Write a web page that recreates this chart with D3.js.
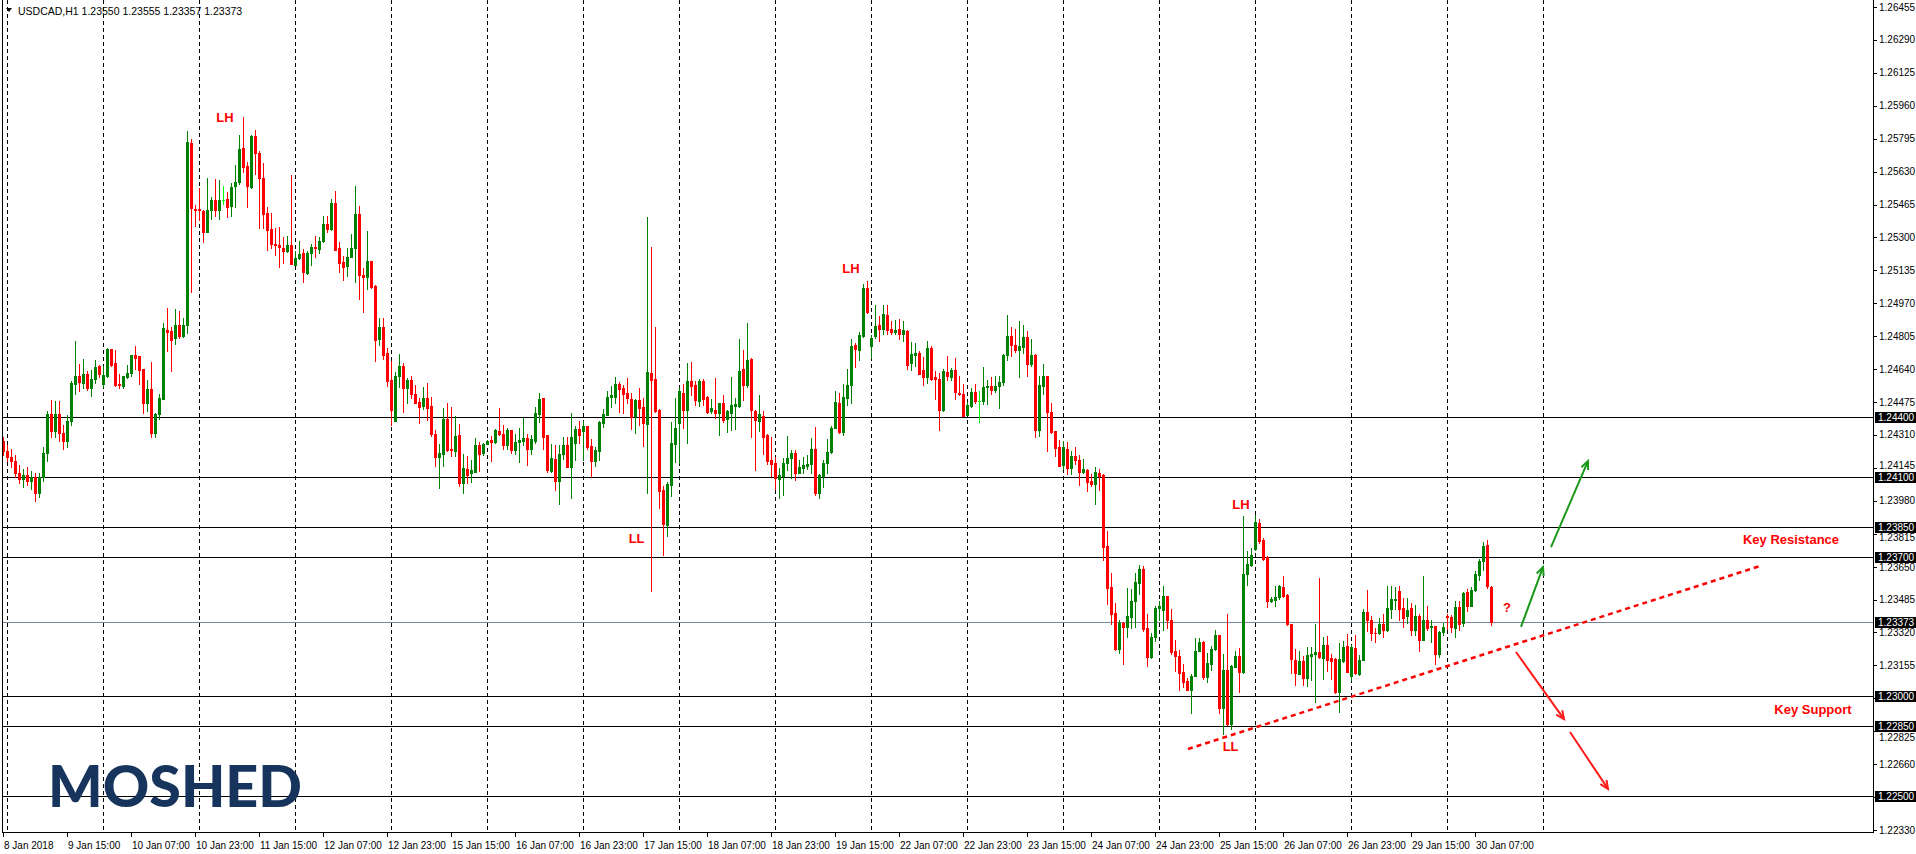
<!DOCTYPE html>
<html><head><meta charset="utf-8">
<script src="https://cdn.jsdelivr.net/npm/d3@7"></script>
<style>body{margin:0;background:#fff;overflow:hidden}svg{display:block}</style>
</head><body>
<svg id="chart" width="1916" height="854"></svg>
<script>
// ---------- DATA ----------
const symbol = "USDCAD,H1";
const firstBarUTC = [2018, 0, 8, 23]; // 8 Jan 2018 23:00, H1 bars, weekends skipped
const opens = [
1.24280,1.24230,1.24200,1.24180,1.24120,1.24090,1.24110,1.24080,1.24100,1.24020,
1.24100,1.24220,1.24414,1.24330,1.24414,1.24320,1.24280,1.24380,1.24564,1.24604,
1.24571,1.24614,1.24546,1.24591,1.24654,1.24564,1.24606,1.24739,1.24669,1.24564,
1.24556,1.24601,1.24622,1.24709,1.24704,1.24639,1.24471,1.24539,1.24320,1.24414,
1.24489,1.24834,1.24829,1.24796,1.24862,1.24806,1.24859,1.25774,1.25442,1.25444,
1.25434,1.25326,1.25436,1.25489,1.25436,1.25489,1.25494,1.25456,1.25556,1.25576,
1.25747,1.25659,1.25552,1.25809,1.25724,1.25599,1.25422,1.25344,1.25269,1.25264,
1.25249,1.25231,1.25264,1.25164,1.25196,1.25224,1.25122,1.25221,1.25254,1.25244,
1.25281,1.25369,1.25341,1.25474,1.25247,1.25177,1.25156,1.25201,1.25246,1.25419,
1.25114,1.25101,1.25182,1.25059,1.24791,1.24849,1.24719,1.24583,1.24380,1.24605,
1.24658,1.24543,1.24583,1.24513,1.24475,1.24453,1.24496,1.24453,1.24316,1.24200,
1.24213,1.24388,1.24240,1.24231,1.24308,1.24070,1.24138,1.24118,1.24125,1.24258,
1.24218,1.24265,1.24285,1.24275,1.24328,1.24316,1.24260,1.24333,1.24235,1.24276,
1.24278,1.24296,1.24240,1.24281,1.24413,1.24493,1.24308,1.24130,1.24190,1.24080,
1.24213,1.24258,1.24150,1.24270,1.24338,1.24330,1.24353,1.24255,1.24180,1.24230,
1.24370,1.24410,1.24500,1.24500,1.24563,1.24543,1.24521,1.24491,1.24405,1.24483,
1.24448,1.24363,1.24620,1.24588,1.24435,1.24033,1.23858,1.24058,1.24263,1.24368,
1.24518,1.24435,1.24578,1.24558,1.24480,1.24578,1.24500,1.24431,1.24435,1.24421,
1.24468,1.24390,1.24421,1.24455,1.24453,1.24643,1.24558,1.24693,1.24430,1.24380,
1.24405,1.24310,1.24185,1.24171,1.24090,1.24104,1.24167,1.24195,1.24220,1.24119,
1.24144,1.24154,1.24164,1.24240,1.24017,1.24104,1.24167,1.24224,1.24344,1.24472,
1.24327,1.24495,1.24562,1.24762,1.24737,1.24807,1.25047,1.24754,1.24807,1.24860,
1.24842,1.24912,1.24842,1.24824,1.24840,1.24814,1.24832,1.24670,1.24712,1.24722,
1.24637,1.24600,1.24745,1.24599,1.24592,1.24434,1.24624,1.24599,1.24637,1.24520,
1.24517,1.24412,1.24454,1.24527,1.24479,1.24479,1.24549,1.24557,1.24534,1.24557,
1.24577,1.24710,1.24804,1.24760,1.24737,1.24749,1.24802,1.24667,1.24712,1.24337,
1.24554,1.24607,1.24427,1.24332,1.24249,1.24157,1.24242,1.24142,1.24207,1.24187,
1.24124,1.24132,1.24077,1.24062,1.24117,1.24110,1.23754,1.23549,1.23420,1.23237,
1.23367,1.23345,1.23399,1.23479,1.23570,1.23637,1.23342,1.23199,1.23295,1.23442,
1.23431,1.23504,1.23384,1.23229,1.23204,1.23121,1.23079,1.23031,1.23104,1.23229,
1.23271,1.23096,1.23164,1.23237,1.23309,1.22942,1.23132,1.22859,1.23147,1.23201,
1.23121,1.23614,1.23659,1.23739,1.23871,1.23784,1.23696,1.23476,1.23484,1.23497,
1.23546,1.23509,1.23364,1.23184,1.23114,1.23179,1.23092,1.23204,1.23214,1.23222,
1.23192,1.23259,1.23192,1.23187,1.23021,1.23176,1.23251,1.23104,1.23242,1.23114,
1.23184,1.23422,1.23384,1.23319,1.23317,1.23362,1.23331,1.23437,1.23482,1.23526,
1.23442,1.23401,1.23442,1.23334,1.23404,1.23281,1.23384,1.23346,1.23354,1.23214,
1.23321,1.23401,1.23396,1.23342,1.23447,1.23367,1.23521,1.23454,1.23531,1.23609,
1.23676,1.23759,1.23550];
const highs = [
1.24300,1.24260,1.24240,1.24210,1.24160,1.24140,1.24150,1.24130,1.24120,1.24120,
1.24250,1.24429,1.24484,1.24479,1.24479,1.24360,1.24409,1.24580,1.24779,1.24664,
1.24689,1.24631,1.24636,1.24684,1.24659,1.24656,1.24747,1.24742,1.24736,1.24614,
1.24607,1.24661,1.24712,1.24754,1.24704,1.24642,1.24584,1.24674,1.24422,1.24516,
1.24869,1.24944,1.24851,1.24939,1.24929,1.24894,1.25834,1.25794,1.25464,1.25549,
1.25439,1.25599,1.25501,1.25594,1.25587,1.25559,1.25529,1.25572,1.25661,1.25814,
1.25904,1.25676,1.25814,1.25839,1.25732,1.25674,1.25452,1.25422,1.25347,1.25351,
1.25302,1.25306,1.25614,1.25231,1.25282,1.25244,1.25232,1.25266,1.25309,1.25301,
1.25406,1.25409,1.25491,1.25534,1.25277,1.25206,1.25247,1.25316,1.25559,1.25456,
1.25147,1.25334,1.25182,1.25064,1.24897,1.24897,1.24746,1.24680,1.24626,1.24715,
1.24670,1.24596,1.24608,1.24558,1.24493,1.24548,1.24570,1.24498,1.24333,1.24263,
1.24446,1.24468,1.24451,1.24405,1.24363,1.24213,1.24203,1.24185,1.24293,1.24276,
1.24271,1.24285,1.24303,1.24341,1.24443,1.24360,1.24345,1.24333,1.24316,1.24345,
1.24393,1.24316,1.24310,1.24451,1.24518,1.24496,1.24308,1.24263,1.24260,1.24258,
1.24300,1.24301,1.24421,1.24355,1.24381,1.24380,1.24353,1.24291,1.24250,1.24380,
1.24438,1.24530,1.24555,1.24601,1.24575,1.24560,1.24593,1.24518,1.24491,1.24546,
1.24495,1.25403,1.25253,1.24853,1.24438,1.24055,1.24075,1.24375,1.24493,1.24546,
1.24563,1.24671,1.24678,1.24580,1.24591,1.24588,1.24505,1.24488,1.24593,1.24468,
1.24511,1.24435,1.24601,1.24493,1.24793,1.24738,1.24873,1.24698,1.24436,1.24508,
1.24428,1.24316,1.24301,1.24200,1.24142,1.24195,1.24307,1.24237,1.24235,1.24185,
1.24200,1.24212,1.24297,1.24352,1.24114,1.24182,1.24292,1.24357,1.24532,1.24520,
1.24567,1.24642,1.24790,1.24772,1.24824,1.25069,1.25082,1.24812,1.24962,1.24907,
1.24962,1.24962,1.24882,1.24887,1.24892,1.24879,1.24837,1.24774,1.24770,1.24732,
1.24699,1.24779,1.24757,1.24629,1.24620,1.24642,1.24707,1.24647,1.24695,1.24604,
1.24567,1.24474,1.24544,1.24567,1.24529,1.24649,1.24587,1.24599,1.24604,1.24604,
1.24715,1.24909,1.24849,1.24842,1.24882,1.24862,1.24832,1.24790,1.24715,1.24604,
1.24665,1.24607,1.24470,1.24332,1.24284,1.24282,1.24277,1.24232,1.24252,1.24212,
1.24192,1.24137,1.24115,1.24149,1.24137,1.24114,1.23829,1.23617,1.23469,1.23384,
1.23375,1.23544,1.23540,1.23617,1.23659,1.23654,1.23412,1.23317,1.23454,1.23479,
1.23551,1.23504,1.23437,1.23281,1.23234,1.23164,1.23092,1.23112,1.23291,1.23292,
1.23276,1.23217,1.23254,1.23334,1.23309,1.23214,1.23414,1.23157,1.23226,1.23242,
1.23905,1.23726,1.23742,1.23910,1.23890,1.23792,1.23701,1.23497,1.23551,1.23559,
1.23604,1.23514,1.23364,1.23237,1.23229,1.23201,1.23247,1.23247,1.23364,1.23592,
1.23297,1.23301,1.23214,1.23192,1.23267,1.23276,1.23314,1.23257,1.23309,1.23209,
1.23437,1.23531,1.23404,1.23342,1.23392,1.23412,1.23554,1.23554,1.23547,1.23554,
1.23492,1.23492,1.23467,1.23459,1.23414,1.23604,1.23454,1.23384,1.23354,1.23326,
1.23367,1.23412,1.23407,1.23476,1.23479,1.23522,1.23537,1.23546,1.23626,1.23687,
1.23776,1.23784,1.23555];
const lows = [
1.24210,1.24180,1.24150,1.24100,1.24070,1.24050,1.24060,1.24040,1.23980,1.24000,
1.24080,1.24180,1.24300,1.24300,1.24280,1.24240,1.24250,1.24360,1.24516,1.24529,
1.24547,1.24536,1.24506,1.24571,1.24601,1.24552,1.24602,1.24656,1.24556,1.24547,
1.24546,1.24597,1.24606,1.24642,1.24564,1.24421,1.24431,1.24300,1.24300,1.24392,
1.24489,1.24731,1.24631,1.24764,1.24796,1.24802,1.24822,1.25029,1.25356,1.25389,
1.25276,1.25326,1.25392,1.25406,1.25392,1.25467,1.25401,1.25406,1.25451,1.25566,
1.25626,1.25451,1.25549,1.25616,1.25346,1.25346,1.25236,1.25246,1.25212,1.25151,
1.25171,1.25226,1.25169,1.25164,1.25192,1.25079,1.25119,1.25161,1.25201,1.25221,
1.25279,1.25327,1.25337,1.25239,1.25126,1.25086,1.25106,1.25201,1.25079,1.24989,
1.24926,1.25041,1.25046,1.24681,1.24761,1.24689,1.24556,1.24360,1.24380,1.24550,
1.24425,1.24470,1.24493,1.24471,1.24370,1.24438,1.24385,1.24305,1.24155,1.24045,
1.24155,1.24231,1.24205,1.24205,1.24055,1.24020,1.24070,1.24076,1.24125,1.24130,
1.24210,1.24263,1.24178,1.24271,1.24310,1.24238,1.24241,1.24218,1.24216,1.24175,
1.24260,1.24160,1.24216,1.24270,1.24375,1.24241,1.24125,1.24125,1.24033,1.23966,
1.24188,1.24150,1.23996,1.24185,1.24268,1.24183,1.24238,1.24101,1.24155,1.24185,
1.24350,1.24408,1.24451,1.24471,1.24425,1.24421,1.24471,1.24341,1.24321,1.24361,
1.24255,1.24021,1.23530,1.24425,1.23946,1.23708,1.23805,1.24005,1.24175,1.24171,
1.24343,1.24268,1.24508,1.24458,1.24455,1.24460,1.24420,1.24421,1.24393,1.24310,
1.24375,1.24325,1.24335,1.24338,1.24451,1.24483,1.24550,1.24300,1.24135,1.24330,
1.24213,1.24163,1.24105,1.24041,1.23994,1.24009,1.24132,1.24092,1.24084,1.24119,
1.24119,1.24137,1.24120,1.24007,1.23994,1.24049,1.24117,1.24220,1.24344,1.24320,
1.24310,1.24459,1.24469,1.24649,1.24684,1.24799,1.24920,1.24695,1.24795,1.24779,
1.24817,1.24817,1.24815,1.24817,1.24792,1.24782,1.24640,1.24637,1.24654,1.24614,
1.24562,1.24570,1.24587,1.24492,1.24337,1.24429,1.24587,1.24587,1.24490,1.24512,
1.24404,1.24410,1.24450,1.24470,1.24374,1.24467,1.24467,1.24514,1.24524,1.24445,
1.24562,1.24687,1.24704,1.24724,1.24599,1.24720,1.24607,1.24654,1.24299,1.24304,
1.24517,1.24232,1.24320,1.24207,1.24154,1.24140,1.24112,1.24115,1.24165,1.24057,
1.24117,1.24029,1.24054,1.23962,1.24032,1.23682,1.23465,1.23365,1.23232,1.23217,
1.23162,1.23299,1.23340,1.23345,1.23512,1.23329,1.23154,1.23190,1.23275,1.23384,
1.23331,1.23342,1.23212,1.23129,1.23031,1.23046,1.23031,1.22917,1.23101,1.23226,
1.23087,1.23072,1.23131,1.23234,1.22917,1.22809,1.22854,1.22834,1.23146,1.23022,
1.23117,1.23559,1.23651,1.23734,1.23767,1.23681,1.23446,1.23472,1.23451,1.23487,
1.23497,1.23359,1.23117,1.23059,1.23114,1.23059,1.23051,1.23084,1.22972,1.23192,
1.23087,1.23129,1.23087,1.23017,1.22921,1.23171,1.23121,1.23084,1.23114,1.23109,
1.23181,1.23326,1.23284,1.23271,1.23312,1.23297,1.23329,1.23391,1.23437,1.23381,
1.23347,1.23367,1.23309,1.23306,1.23226,1.23281,1.23334,1.23271,1.23164,1.23197,
1.23309,1.23339,1.23322,1.23297,1.23334,1.23354,1.23426,1.23454,1.23526,1.23584,
1.23634,1.23542,1.23357];
const closes = [
1.24230,1.24200,1.24180,1.24120,1.24090,1.24110,1.24080,1.24100,1.24020,1.24100,
1.24220,1.24414,1.24330,1.24414,1.24320,1.24280,1.24380,1.24572,1.24604,1.24576,
1.24614,1.24546,1.24589,1.24649,1.24614,1.24609,1.24741,1.24661,1.24561,1.24561,
1.24604,1.24619,1.24709,1.24696,1.24636,1.24471,1.24539,1.24320,1.24414,1.24494,
1.24844,1.24827,1.24786,1.24862,1.24804,1.24862,1.25779,1.25446,1.25436,1.25436,
1.25326,1.25439,1.25489,1.25436,1.25489,1.25489,1.25452,1.25554,1.25579,1.25744,
1.25652,1.25556,1.25809,1.25721,1.25596,1.25419,1.25336,1.25266,1.25261,1.25251,
1.25231,1.25264,1.25169,1.25199,1.25219,1.25126,1.25224,1.25254,1.25246,1.25284,
1.25369,1.25341,1.25474,1.25239,1.25171,1.25151,1.25204,1.25249,1.25419,1.25111,
1.25101,1.25182,1.25054,1.24786,1.24849,1.24711,1.24581,1.24435,1.24608,1.24658,
1.24543,1.24583,1.24513,1.24471,1.24451,1.24496,1.24445,1.24313,1.24200,1.24218,
1.24388,1.24235,1.24235,1.24303,1.24070,1.24143,1.24110,1.24133,1.24258,1.24215,
1.24263,1.24278,1.24275,1.24335,1.24313,1.24260,1.24333,1.24235,1.24276,1.24283,
1.24296,1.24240,1.24288,1.24418,1.24488,1.24301,1.24135,1.24193,1.24080,1.24213,
1.24258,1.24150,1.24301,1.24338,1.24310,1.24353,1.24250,1.24180,1.24233,1.24375,
1.24413,1.24501,1.24508,1.24563,1.24538,1.24513,1.24493,1.24401,1.24485,1.24443,
1.24368,1.24628,1.24583,1.24428,1.24030,1.23863,1.24063,1.24268,1.24343,1.24530,
1.24435,1.24578,1.24555,1.24483,1.24578,1.24488,1.24426,1.24443,1.24418,1.24468,
1.24385,1.24430,1.24458,1.24465,1.24633,1.24560,1.24688,1.24433,1.24385,1.24413,
1.24301,1.24180,1.24163,1.24096,1.24109,1.24170,1.24195,1.24220,1.24117,1.24147,
1.24157,1.24165,1.24240,1.24017,1.24107,1.24167,1.24227,1.24347,1.24477,1.24327,
1.24502,1.24562,1.24757,1.24742,1.24810,1.25047,1.24925,1.24797,1.24857,1.24842,
1.24917,1.24837,1.24824,1.24837,1.24814,1.24837,1.24662,1.24717,1.24722,1.24617,
1.24600,1.24745,1.24590,1.24589,1.24437,1.24632,1.24604,1.24637,1.24524,1.24515,
1.24407,1.24462,1.24527,1.24479,1.24479,1.24550,1.24554,1.24537,1.24557,1.24577,
1.24712,1.24807,1.24760,1.24737,1.24757,1.24802,1.24667,1.24712,1.24337,1.24559,
1.24607,1.24424,1.24327,1.24245,1.24154,1.24249,1.24142,1.24207,1.24187,1.24124,
1.24137,1.24074,1.24062,1.24124,1.24104,1.23749,1.23542,1.23415,1.23237,1.23370,
1.23349,1.23404,1.23479,1.23574,1.23637,1.23337,1.23199,1.23295,1.23442,1.23451,
1.23504,1.23381,1.23222,1.23201,1.23117,1.23072,1.23034,1.23104,1.23229,1.23271,
1.23096,1.23167,1.23239,1.23309,1.22939,1.23132,1.22859,1.23151,1.23201,1.23121,
1.23614,1.23664,1.23709,1.23876,1.23781,1.23689,1.23476,1.23489,1.23497,1.23551,
1.23501,1.23362,1.23187,1.23117,1.23179,1.23092,1.23209,1.23214,1.23222,1.23197,
1.23259,1.23184,1.23176,1.23021,1.23187,1.23247,1.23121,1.23247,1.23117,1.23184,
1.23422,1.23384,1.23317,1.23316,1.23362,1.23331,1.23442,1.23487,1.23487,1.23439,
1.23392,1.23434,1.23334,1.23404,1.23281,1.23381,1.23342,1.23354,1.23214,1.23322,
1.23346,1.23396,1.23346,1.23447,1.23362,1.23517,1.23454,1.23534,1.23614,1.23676,
1.23754,1.23551,1.23373];

const timeLabels = ["8 Jan 2018","9 Jan 15:00","10 Jan 07:00","10 Jan 23:00","11 Jan 15:00","12 Jan 07:00",
 "12 Jan 23:00","15 Jan 15:00","16 Jan 07:00","16 Jan 23:00","17 Jan 15:00","18 Jan 07:00","18 Jan 23:00",
 "19 Jan 15:00","22 Jan 07:00","22 Jan 23:00","23 Jan 15:00","24 Jan 07:00","24 Jan 23:00","25 Jan 15:00",
 "26 Jan 07:00","26 Jan 23:00","29 Jan 15:00","30 Jan 07:00"];
const timeLabelStep = 16;                       // one label every 16 bars
const priceTicks = d3.range(26).map(k => +(1.22330 + k * 0.00165).toFixed(5));
const levelPrices = [1.24400, 1.24100, 1.23850, 1.23700, 1.23000, 1.22850, 1.22500];
const lastPrice = 1.23373;
// annotations anchored on (bar index, price)
const swingLabels = [
  {text:"LH", bar:55.5, price:1.25900},
  {text:"LH", bar:212,  price:1.25142},
  {text:"LL", bar:158.4,price:1.23790},
  {text:"LH", bar:309.5,price:1.23959},
  {text:"LL", bar:306.9,price:1.22751}
];
const zoneLabels = [
  {text:"Key Resistance", bar:447,   price:1.23787},
  {text:"Key Support",    bar:452.5, price:1.22932},
  {text:"?",              bar:376,   price:1.23443}
];
const trendLine = {b0:296.25, p0:1.22736, b1:439.25, p1:1.23653};
const arrows = [
  {b0:379.5, p0:1.23348, b1:385,    p1:1.23648, c:"#1a9a1a"},
  {b0:387,   p0:1.23748, b1:396.25, p1:1.24179, c:"#1a9a1a"},
  {b0:378.25,p0:1.23222, b1:390.25, p1:1.22886, c:"#ff1a1a"},
  {b0:391.75,p0:1.22821, b1:401.25, p1:1.22536, c:"#ff1a1a"}
];

// ---------- CHART ----------
(function draw() {
const plotL = 3, plotR = 1873, plotT = 7, plotB = 830, axisY = 832;
const svg = d3.select("#chart");
const N = Math.min(opens.length, highs.length, lows.length, closes.length);
const x = d3.scaleLinear().domain([0, 467.5]).range([plotL, plotR]);
const y = d3.scaleLinear().domain([1.22330, 1.26455]).range([plotB, plotT]);

// bar times (weekends skipped)
const times = [];
{ let t = Date.UTC(...firstBarUTC); while (times.length < 470) { const d = new Date(t);
    const wd = d.getUTCDay(); if (wd !== 0 && wd !== 6) times.push(d); t += 3600000; } }

const g = svg.append("g");
// day separators (dashed) - up to the start of the day after the last bar
const sepIdx = d3.range(0, N + 24).filter(i => times[i].getUTCHours() === 0);
g.selectAll("line.sep").data(sepIdx).join("line")
  .attr("x1", i => Math.round(x(i)) + 0.5).attr("x2", i => Math.round(x(i)) + 0.5)
  .attr("y1", 0).attr("y2", axisY)
  .attr("stroke", "#000").attr("stroke-width", 1).attr("stroke-dasharray", "4,3");

// horizontal levels
g.selectAll("line.lvl").data(levelPrices).join("line")
  .attr("x1", plotL).attr("x2", plotR)
  .attr("y1", p => Math.round(y(p)) + 0.5).attr("y2", p => Math.round(y(p)) + 0.5)
  .attr("stroke", "#000").attr("stroke-width", 1);
g.append("line").attr("x1", plotL).attr("x2", plotR)
  .attr("y1", Math.round(y(lastPrice)) + 0.5).attr("y2", Math.round(y(lastPrice)) + 0.5)
  .attr("stroke", "#778899").attr("stroke-width", 1);

// logo
svg.append("text").attr("x", 48).attr("y", 807)
  .attr("font-family", "Lato, Inter, 'Open Sans', sans-serif").attr("font-weight", 900)
  .attr("font-size", 58).attr("fill", "#17355c")
  .attr("textLength", 254).attr("lengthAdjust", "spacingAndGlyphs").text("MOSHED");

// candles
const bars = d3.range(N).map(i => ({i, o:opens[i], h:highs[i], l:lows[i], c:closes[i]}));
const col = d => d.c > d.o ? "#008000" : (d.c < d.o ? "#ff0000" : "#00ff00");
const cg = svg.append("g");
cg.selectAll("rect.wick").data(bars).join("rect")
  .attr("x", d => Math.round(x(d.i)))
  .attr("y", d => Math.round(y(d.h)))
  .attr("width", 1)
  .attr("height", d => Math.round(y(d.l)) - Math.round(y(d.h)) + 1)
  .attr("fill", col);
cg.selectAll("rect.body").data(bars).join("rect")
  .attr("x", d => Math.round(x(d.i)) - 1)
  .attr("y", d => Math.round(y(Math.max(d.o, d.c))))
  .attr("width", 3)
  .attr("height", d => Math.max(1, Math.round(y(Math.min(d.o, d.c))) - Math.round(y(Math.max(d.o, d.c))) + 1))
  .attr("fill", col);

// trend line + arrows
svg.append("line").attr("x1", x(trendLine.b0)).attr("y1", y(trendLine.p0))
  .attr("x2", x(trendLine.b1)).attr("y2", y(trendLine.p1))
  .attr("stroke", "#ff0000").attr("stroke-width", 2.5).attr("stroke-dasharray", "5,4");
arrows.forEach(a => {
  const x0 = x(a.b0), y0 = y(a.p0), x1 = x(a.b1), y1 = y(a.p1);
  svg.append("line").attr("x1", x0).attr("y1", y0).attr("x2", x1).attr("y2", y1)
    .attr("stroke", a.c).attr("stroke-width", 2);
  const ang = Math.atan2(y1 - y0, x1 - x0), L = 9, s = 0.42;
  const pts = [[x1 - L*Math.cos(ang - s), y1 - L*Math.sin(ang - s)], [x1, y1],
               [x1 - L*Math.cos(ang + s), y1 - L*Math.sin(ang + s)]];
  svg.append("polyline").attr("points", pts.map(p => p.join(",")).join(" "))
    .attr("fill", "none").attr("stroke", a.c).attr("stroke-width", 2);
});

// text annotations
const annFont = "'Liberation Sans', Arial, sans-serif";
svg.selectAll("text.swing").data(swingLabels.concat(zoneLabels)).join("text")
  .attr("x", d => x(d.bar)).attr("y", d => y(d.price))
  .attr("text-anchor", "middle").attr("dominant-baseline", "central")
  .attr("font-family", annFont).attr("font-weight", "bold").attr("font-size", 13)
  .attr("fill", "#ff0000").text(d => d.text);

// frame
svg.append("line").attr("x1", 2.5).attr("x2", 2.5).attr("y1", 0).attr("y2", axisY + 1).attr("stroke", "#000");
svg.append("line").attr("x1", 2).attr("x2", plotR + 1).attr("y1", axisY + 0.5).attr("y2", axisY + 0.5).attr("stroke", "#000");
svg.append("line").attr("x1", plotR + 0.5).attr("x2", plotR + 0.5).attr("y1", 0).attr("y2", axisY + 1).attr("stroke", "#000");

// price axis
const axFont = "'Liberation Sans', Arial, sans-serif";
const boxes = levelPrices.concat([lastPrice]);
// labels fully covered by a level box are hidden; partially covered ones are nudged clear of the box
const visibleTicks = priceTicks.filter(p => !boxes.some(b => Math.abs(y(b) - y(p)) < 4));
const labelY = p => {
  let yy = y(p);
  boxes.forEach(b => { const d = yy - y(b); if (Math.abs(d) < 11) yy = y(b) + (d > 0 ? 11 : -11); });
  return yy;
};
const pa = svg.append("g");
pa.selectAll("line").data(priceTicks).join("line")
  .attr("x1", plotR + 1).attr("x2", plotR + 4)
  .attr("y1", p => Math.round(y(p)) + 0.5).attr("y2", p => Math.round(y(p)) + 0.5).attr("stroke", "#000");
pa.selectAll("text").data(visibleTicks).join("text")
  .attr("x", plotR + 6).attr("y", labelY).attr("dominant-baseline", "central")
  .attr("font-family", axFont).attr("font-size", 10).attr("fill", "#000")
  .text(p => p.toFixed(5));
const bx = svg.append("g");
bx.selectAll("rect").data(boxes).join("rect")
  .attr("x", plotR + 2).attr("y", p => Math.round(y(p)) - 5).attr("width", 41).attr("height", 11)
  .attr("fill", "#000");
bx.selectAll("text").data(boxes).join("text")
  .attr("x", plotR + 5).attr("y", p => Math.round(y(p)) + 0.5).attr("dominant-baseline", "central")
  .attr("font-family", axFont).attr("font-size", 10).attr("fill", "#fff")
  .text(p => p.toFixed(5));

// time axis
const ta = svg.append("g");
const labIdx = timeLabels.map((t, k) => k * timeLabelStep);
ta.selectAll("line").data(labIdx).join("line")
  .attr("x1", i => Math.round(x(i)) + 0.5).attr("x2", i => Math.round(x(i)) + 0.5)
  .attr("y1", axisY + 1).attr("y2", axisY + 5).attr("stroke", "#000");
ta.selectAll("text").data(timeLabels).join("text")
  .attr("x", (t, k) => Math.round(x(labIdx[k])) + 1).attr("y", 845).attr("dominant-baseline", "central")
  .attr("font-family", axFont).attr("font-size", 10).attr("fill", "#000").text(t => t);

// header
svg.append("path").attr("d", "M6,8 L12,8 L9,12 Z").attr("fill", "#000");
svg.append("text").attr("x", 18).attr("y", 11).attr("dominant-baseline", "central")
  .attr("font-family", axFont).attr("font-size", 10.5).attr("fill", "#000")
  .text(symbol + "  " + [opens[N-1], highs[N-1], lows[N-1], closes[N-1]].map(v => v.toFixed(5)).join(" "));
})();
</script>
</body></html>
